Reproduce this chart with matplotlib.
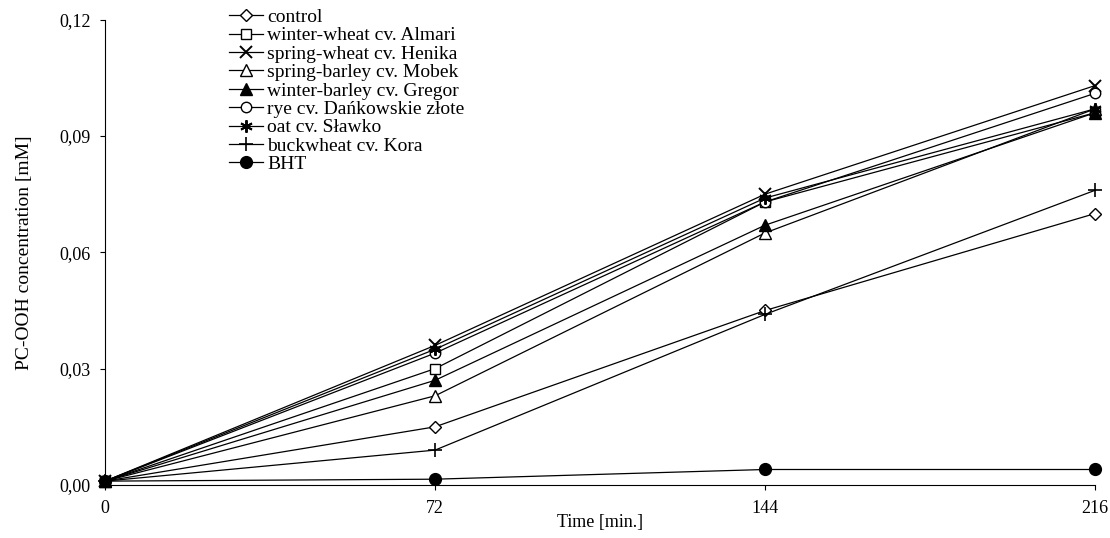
import matplotlib
matplotlib.use("Agg")
import matplotlib.pyplot as plt
from matplotlib.ticker import FuncFormatter

plt.rcParams['font.family'] = ['Liberation Serif', 'DejaVu Serif']

time = [0, 72, 144, 216]
labels = ["control", "winter-wheat cv. Almari", "spring-wheat cv. Henika",
          "spring-barley cv. Mobek", "winter-barley cv. Gregor",
          "rye cv. Dańkowskie złote", "oat cv. Sławko", "buckwheat cv. Kora", "BHT"]
control = [0.001, 0.015, 0.045, 0.070]
almari = [0.001, 0.030, 0.073, 0.096]
henika = [0.001, 0.036, 0.075, 0.103]
mobek = [0.001, 0.023, 0.065, 0.097]
gregor = [0.001, 0.027, 0.067, 0.096]
rye = [0.001, 0.034, 0.073, 0.101]
oat = [0.001, 0.035, 0.074, 0.097]
buckwheat = [0.001, 0.009, 0.044, 0.076]
bht = [0.001, 0.0015, 0.004, 0.004]
series = [control, almari, henika, mobek, gregor, rye, oat, buckwheat, bht]

styles = [
    dict(marker='D', mfc='white', ms=6),
    dict(marker='s', mfc='white', ms=7.5),
    dict(marker='x', mfc='black', ms=8, mew=1.4),
    dict(marker='^', mfc='white', ms=8),
    dict(marker='^', mfc='black', ms=8),
    dict(marker='o', mfc='white', ms=7.5),
    dict(marker=(6, 2, 0), mfc='black', ms=9, mew=1.4),
    dict(marker='+', mfc='black', ms=10, mew=1.2),
    dict(marker='o', mfc='black', ms=8.5),
]

fig = plt.figure(figsize=(11.1, 5.38), dpi=100)
ax = fig.add_axes([0.0946, 0.0985, 0.892, 0.865])

for vals, lab, st in zip(series, labels, styles):
    ax.plot(time, vals, color='black', lw=0.9, mec='black', label=lab,
            clip_on=False, zorder=3, **st)

ax.set_xlim(0, 216)
ax.set_ylim(0, 0.12)
ax.set_xticks(time)
ax.set_yticks([0, 0.03, 0.06, 0.09, 0.12])
ax.yaxis.set_major_formatter(FuncFormatter(lambda v, p: f"{v:.2f}".replace('.', ',')))
for s in ['top', 'right']:
    ax.spines[s].set_visible(False)
for s in ['left', 'bottom']:
    ax.spines[s].set_linewidth(0.8)
ax.tick_params(direction='out', length=3.5, width=0.8, labelsize=13, pad=7)
ax.set_xlabel("Time [min.]", fontsize=13, labelpad=-2)
ax.set_ylabel("PC-OOH concentration [mM]", fontsize=14, labelpad=19)

ax.legend(loc='upper left', bbox_to_anchor=(0.1155, 1.045), frameon=False,
          fontsize=14, handlelength=1.75, handletextpad=0.2, labelspacing=0.04,
          borderpad=0)

fig.savefig("out.png", dpi=100)
